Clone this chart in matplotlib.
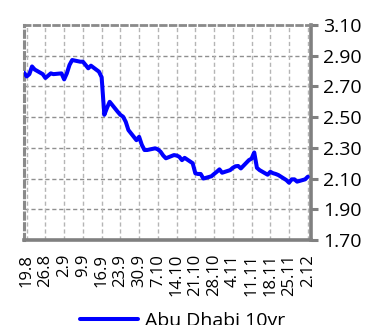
import matplotlib
matplotlib.use("Agg")
import matplotlib.pyplot as plt
import pandas as pd
import numpy as np

# ---- data ----
start_date = "2019-08-18"
day_offsets = [0, 1, 2, 3, 4,
               7, 8, 9, 10, 11,
               14, 15, 16, 17, 18,
               21, 22, 23, 24, 25,
               28, 29, 30, 31, 32,
               35, 36, 37, 38, 39,
               42, 43, 44, 45, 46,
               49, 50, 51, 52, 53,
               56, 57, 58, 59, 60,
               63, 64, 65, 66, 67,
               70, 71, 72, 73, 74,
               77, 78, 79, 80, 81,
               84, 85, 86, 87, 88,
               91, 92, 93, 94, 95,
               98, 99, 100, 101, 102,
               105, 106]
yields = [2.79, 2.765, 2.78, 2.83, 2.81,
          2.78, 2.755, 2.77, 2.785, 2.78,
          2.785, 2.746, 2.785, 2.84, 2.872,
          2.861, 2.861, 2.84, 2.818, 2.835,
          2.796, 2.76, 2.515, 2.56, 2.60,
          2.535, 2.515, 2.503, 2.47, 2.416,
          2.35, 2.372, 2.32, 2.286, 2.286,
          2.297, 2.29, 2.275, 2.25, 2.232,
          2.253, 2.25, 2.242, 2.22, 2.235,
          2.20, 2.134, 2.13, 2.13, 2.10,
          2.115, 2.13, 2.144, 2.16, 2.138,
          2.155, 2.17, 2.18, 2.182, 2.166,
          2.22, 2.23, 2.27, 2.17, 2.155,
          2.125, 2.144, 2.135, 2.13, 2.123,
          2.09, 2.073, 2.095, 2.095, 2.08,
          2.095, 2.112]
series_name = "Abu Dhabi 10yr"
tick_labels = ["19.8", "26.8", "2.9", "9.9", "16.9", "23.9", "30.9", "7.10",
               "14.10", "21.10", "28.10", "4.11", "11.11", "18.11", "25.11", "2.12"]
y_ticks = [1.70, 1.90, 2.10, 2.30, 2.50, 2.70, 2.90, 3.10]

dates = pd.Timestamp(start_date) + pd.to_timedelta(day_offsets, unit="D")
tick_dates = pd.date_range("2019-08-19", periods=len(tick_labels), freq="7D")

# ---- figure ----
W, H = 367, 325
fig = plt.figure(figsize=(W / 100, H / 100), dpi=100)
ax = fig.add_axes([24 / W, 1 - 240 / H, (311 - 24) / W, (240 - 25) / H])

line, = ax.plot(dates, yields, color="#0000FF", lw=2.9, solid_joinstyle="round",
                solid_capstyle="round", label=series_name, zorder=3)

ax.set_ylim(1.70, 3.10)
ax.set_xlim(pd.Timestamp(start_date), pd.Timestamp(start_date) + pd.Timedelta(days=107.2))

ax.yaxis.tick_right()
ax.set_yticks(y_ticks)
ax.set_yticklabels([f"{v:.2f}" for v in y_ticks], fontsize=14, family="Open Sans")
ax.tick_params(axis="y", which="both", direction="out", length=5, width=2.2,
               color="#808080", pad=4, left=False, right=True)

ax.set_xticks(tick_dates)
ax.set_xticklabels(tick_labels, rotation=90, fontsize=12, family="Open Sans",
                   va="top", ha="center")
ax.tick_params(axis="x", length=0, pad=10)

# grid
for v in y_ticks[1:-1]:
    ax.axhline(v, color="#8f8f8f", lw=1.0, ls=(0, (3, 2)), zorder=1)
for d in tick_dates:
    ax.axvline(d, color="#b5b5b5", lw=1.0, ls=(0, (3, 2)), zorder=1)

# spines
ax.spines["right"].set_color("#808080")
ax.spines["right"].set_linewidth(2.6)
ax.spines["bottom"].set_color("#808080")
ax.spines["bottom"].set_linewidth(2.6)
ax.spines["left"].set_color("#8a8a8a")
ax.spines["left"].set_linewidth(2.2)
ax.spines["left"].set_linestyle((0, (2, 1.5)))
ax.spines["top"].set_color("#8a8a8a")
ax.spines["top"].set_linewidth(2.0)
ax.spines["top"].set_linestyle((0, (2, 1.5)))

leg = fig.legend(handles=[line], labels=[series_name], loc="upper left",
                 bbox_to_anchor=(80 / W, 1 - 312 / H), frameon=False,
                 borderpad=0, borderaxespad=0,
                 handlelength=3.0, handletextpad=0.35,
                 prop={"family": "Open Sans", "size": 14})

fig.savefig("out.png", dpi=100)
